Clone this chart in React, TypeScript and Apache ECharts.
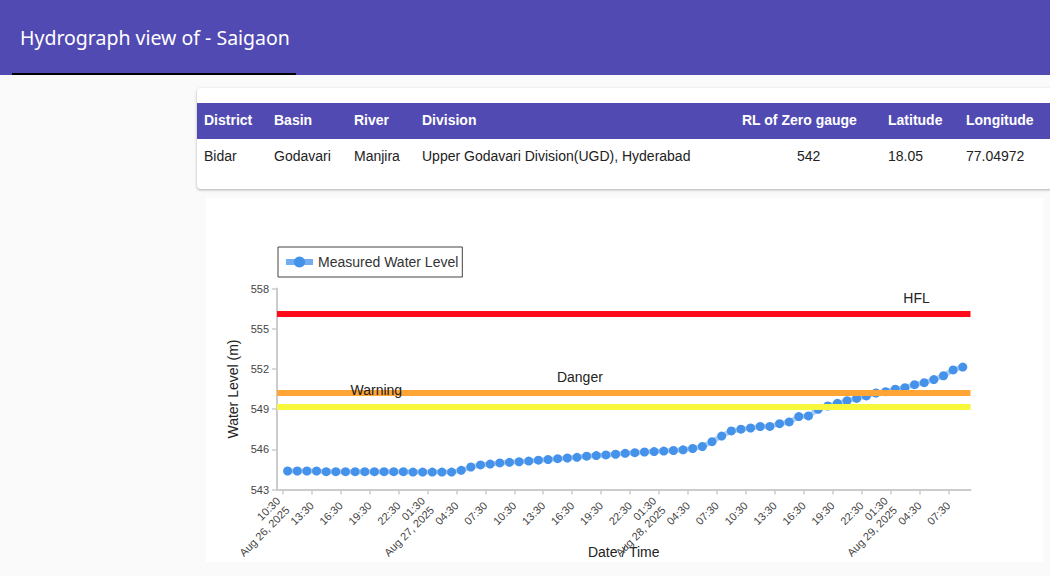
import React, { useEffect, useRef } from "react";
import * as echarts from "echarts";

const stationTitle = "Hydrograph view of - Saigaon";
const tableHeaders = ["District", "Basin", "River", "Division", "RL of Zero gauge", "Latitude", "Longitude"];
const tableRow = ["Bidar", "Godavari", "Manjira", "Upper Godavari Division(UGD), Hyderabad", "542", "18.05", "77.04972"];

const times = [
  "2025-08-26 11:00", "2025-08-26 12:00", "2025-08-26 13:00", "2025-08-26 14:00", "2025-08-26 15:00",
  "2025-08-26 16:00", "2025-08-26 17:00", "2025-08-26 18:00", "2025-08-26 19:00", "2025-08-26 20:00",
  "2025-08-26 21:00", "2025-08-26 22:00", "2025-08-26 23:00",
  "2025-08-27 00:00", "2025-08-27 01:00", "2025-08-27 02:00", "2025-08-27 03:00", "2025-08-27 04:00",
  "2025-08-27 05:00", "2025-08-27 06:00", "2025-08-27 07:00", "2025-08-27 08:00", "2025-08-27 09:00",
  "2025-08-27 10:00", "2025-08-27 11:00", "2025-08-27 12:00", "2025-08-27 13:00", "2025-08-27 14:00",
  "2025-08-27 15:00", "2025-08-27 16:00", "2025-08-27 17:00", "2025-08-27 18:00", "2025-08-27 19:00",
  "2025-08-27 20:00", "2025-08-27 21:00", "2025-08-27 22:00", "2025-08-27 23:00",
  "2025-08-28 00:00", "2025-08-28 01:00", "2025-08-28 02:00", "2025-08-28 03:00", "2025-08-28 04:00",
  "2025-08-28 05:00", "2025-08-28 06:00", "2025-08-28 07:00", "2025-08-28 08:00", "2025-08-28 09:00",
  "2025-08-28 10:00", "2025-08-28 11:00", "2025-08-28 12:00", "2025-08-28 13:00", "2025-08-28 14:00",
  "2025-08-28 15:00", "2025-08-28 16:00", "2025-08-28 17:00", "2025-08-28 18:00", "2025-08-28 19:00",
  "2025-08-28 20:00", "2025-08-28 21:00", "2025-08-28 22:00", "2025-08-28 23:00",
  "2025-08-29 00:00", "2025-08-29 01:00", "2025-08-29 02:00", "2025-08-29 03:00", "2025-08-29 04:00",
  "2025-08-29 05:00", "2025-08-29 06:00", "2025-08-29 07:00", "2025-08-29 08:00", "2025-08-29 09:00",
];

const waterLevels = [
  544.38, 544.38, 544.38, 544.38, 544.33, 544.33, 544.33, 544.33, 544.33, 544.33,
  544.33, 544.33, 544.33, 544.30, 544.30, 544.30, 544.30, 544.30, 544.43, 544.68,
  544.83, 544.90, 544.98, 545.03, 545.07, 545.12, 545.19, 545.24, 545.30, 545.35,
  545.40, 545.49, 545.53, 545.58, 545.63, 545.70, 545.75, 545.80, 545.83, 545.87,
  545.91, 545.96, 546.06, 546.21, 546.57, 546.99, 547.37, 547.50, 547.59, 547.70,
  547.71, 547.91, 548.04, 548.44, 548.49, 548.98, 549.23, 549.43, 549.63, 549.80,
  549.98, 550.20, 550.30, 550.48, 550.60, 550.82, 550.97, 551.20, 551.49, 551.92,
  552.14,
];

const tickTimes = [
  "2025-08-26 10:30", "2025-08-26 13:30", "2025-08-26 16:30", "2025-08-26 19:30", "2025-08-26 22:30",
  "2025-08-27 01:30", "2025-08-27 04:30", "2025-08-27 07:30", "2025-08-27 10:30", "2025-08-27 13:30",
  "2025-08-27 16:30", "2025-08-27 19:30", "2025-08-27 22:30",
  "2025-08-28 01:30", "2025-08-28 04:30", "2025-08-28 07:30", "2025-08-28 10:30", "2025-08-28 13:30",
  "2025-08-28 16:30", "2025-08-28 19:30", "2025-08-28 22:30",
  "2025-08-29 01:30", "2025-08-29 04:30", "2025-08-29 07:30",
];
const tickLabels = [
  "10:30\nAug 26, 2025", "13:30", "16:30", "19:30", "22:30",
  "01:30\nAug 27, 2025", "04:30", "07:30", "10:30", "13:30", "16:30", "19:30", "22:30",
  "01:30\nAug 28, 2025", "04:30", "07:30", "10:30", "13:30", "16:30", "19:30", "22:30",
  "01:30\nAug 29, 2025", "04:30", "07:30",
];

const axisStart = "2025-08-26 09:54";
const axisEnd = "2025-08-29 09:48";
const yTicks = { min: 543, max: 558, step: 3 };

const thresholdNames = ["HFL", "Danger", "Warning"];
const thresholdLevels = [556.1, 550.2, 549.2];
const annotationTimes = ["2025-08-29 04:12", "2025-08-27 17:18", "2025-08-26 20:12"];
const annotationLevels = [557.3, 551.4, 550.45];

const thresholdColors = ["#ff0a1a", "#ffa535", "#f7f73c"];
const PURPLE = "#514ab2";
const BLUE = "#4592ea";

function toHours(s: string): number {
  const [d, t] = s.split(" ");
  const [y, m, day] = d.split("-").map(Number);
  const [h, mi] = t.split(":").map(Number);
  return (Date.UTC(y, m - 1, day, h, mi) - Date.UTC(2025, 7, 26, 0, 0)) / 3600000;
}

function Chart() {
  const ref = useRef<HTMLDivElement>(null);
  useEffect(() => {
    if (!ref.current) return;
    const chart = echarts.init(ref.current, null, { renderer: "svg" });
    const tickValues = tickTimes.map(toHours);
    const font = "'Liberation Sans', Arial, sans-serif";
    chart.setOption({
      animation: false,
      textStyle: { fontFamily: font },
      legend: {
        data: ["Measured Water Level"],
        left: 72,
        top: 49,
        orient: "vertical",
        padding: [8, 4, 8, 5],
        itemWidth: 27,
        itemHeight: 14,
        itemGap: 4,
        borderColor: "#444",
        borderWidth: 1,
        borderRadius: 0,
        lineStyle: { width: 6, color: "rgba(69,146,234,0.75)" },
        textStyle: { fontSize: 14, color: "#333", fontFamily: font },
      },
      grid: { left: 71, right: 72.5, top: 90.5, bottom: 72.5, containLabel: false, outerBoundsMode: "none" },
      xAxis: {
        type: "value",
        min: toHours(axisStart),
        max: toHours(axisEnd),
        name: "Date / Time",
        nameLocation: "middle",
        nameGap: 55,
        nameMoveOverlap: false,
        nameTextStyle: { fontSize: 14, color: "#222" },
        axisLine: { show: true, lineStyle: { color: "#cccccc", width: 2 } },
        axisTick: { show: true, length: 5, customValues: tickValues, lineStyle: { color: "#cccccc", width: 1.5 } },
        axisLabel: {
          customValues: tickValues,
          rotate: 45,
          margin: 14,
          fontSize: 11,
          lineHeight: 13,
          color: "#444",
          formatter: (v: number) => {
            let best = 0;
            for (let i = 1; i < tickValues.length; i++) {
              if (Math.abs(tickValues[i] - v) < Math.abs(tickValues[best] - v)) best = i;
            }
            return tickLabels[best];
          },
        },
        splitLine: { show: false },
      },
      yAxis: {
        type: "value",
        min: yTicks.min,
        max: yTicks.max,
        interval: yTicks.step,
        name: "Water Level (m)",
        nameLocation: "middle",
        nameGap: 37,
        nameMoveOverlap: false,
        nameTextStyle: { fontSize: 14, color: "#222" },
        axisLine: { show: true, lineStyle: { color: "#cccccc", width: 2 } },
        axisTick: { show: true, length: 5, lineStyle: { color: "#cccccc", width: 1.5 } },
        axisLabel: { fontSize: 11, color: "#444", margin: 8 },
        splitLine: { show: false },
      },
      series: [
        {
          name: "thresholds",
          type: "line",
          data: [],
          z: 1,
          silent: true,
          markLine: {
            symbol: "none",
            silent: true,
            label: { show: false },
            data: thresholdLevels.map((lv, i) => ({
              yAxis: lv,
              lineStyle: { color: thresholdColors[i], width: 6, type: "solid" },
            })),
          },
          markPoint: {
            symbol: "circle",
            symbolSize: 0,
            silent: true,
            label: { show: true, fontSize: 14, color: "#222", formatter: "{b}" },
            data: thresholdNames.map((n, i) => ({
              name: n,
              coord: [toHours(annotationTimes[i]), annotationLevels[i]],
            })),
          },
        },
        {
          name: "Measured Water Level",
          type: "line",
          z: 3,
          data: times.map((t, i) => [toHours(t), waterLevels[i]]),
          symbol: "circle",
          symbolSize: 9,
          showSymbol: true,
          itemStyle: { color: BLUE },
          lineStyle: { color: "rgba(69,146,234,0.45)", width: 5 },
        },
      ],
    });
    return () => chart.dispose();
  }, []);
  return <div ref={ref} style={{ width: 837, height: 364 }} />;
}

export default function App() {
  const headerLeft = [7, 77, 157, 225, 545, 691, 769];
  const rowLeft = [7, 77, 157, 225, 600, 691, 769];
  const tableFont = "'Liberation Sans', Arial, sans-serif";
  return (
    <div
      style={{
        position: "absolute",
        left: 0,
        top: 0,
        width: 1050,
        height: 576,
        overflow: "hidden",
        background: "#fafafa",
        fontFamily: tableFont,
      }}
    >
      <div style={{ position: "absolute", left: 0, top: 0, width: 1050, height: 75, background: PURPLE }}>
        <div
          style={{
            position: "absolute",
            left: 20,
            top: 25,
            color: "#fff",
            fontSize: 19.5,
            lineHeight: "26px",
            fontFamily: "'Noto Sans', 'Open Sans', sans-serif",
            whiteSpace: "nowrap",
          }}
        >
          {stationTitle}
        </div>
      </div>
      <div style={{ position: "absolute", left: 12, top: 73, width: 284, height: 2, background: "#000" }} />

      <div
        style={{
          position: "absolute",
          left: 197,
          top: 88,
          width: 880,
          height: 101,
          background: "#fff",
          borderRadius: 4,
          boxShadow: "0 1px 3px rgba(0,0,0,0.3)",
        }}
      >
        <div style={{ position: "absolute", left: 0, top: 15, width: 880, height: 36, background: PURPLE }}>
          {tableHeaders.map((h, i) => (
            <div
              key={h}
              style={{
                position: "absolute",
                left: headerLeft[i],
                top: -1,
                lineHeight: "36px",
                color: "#fff",
                fontWeight: "bold",
                fontSize: 14,
                whiteSpace: "nowrap",
              }}
            >
              {h}
            </div>
          ))}
        </div>
        {tableRow.map((c, i) => (
          <div
            key={i}
            style={{
              position: "absolute",
              left: rowLeft[i],
              top: 50,
              lineHeight: "36px",
              color: "#222",
              fontSize: 14,
              whiteSpace: "nowrap",
            }}
          >
            {c}
          </div>
        ))}
      </div>

      <div style={{ position: "absolute", left: 206, top: 198, width: 837, height: 364, background: "#fff" }}>
        <Chart />
      </div>
    </div>
  );
}
